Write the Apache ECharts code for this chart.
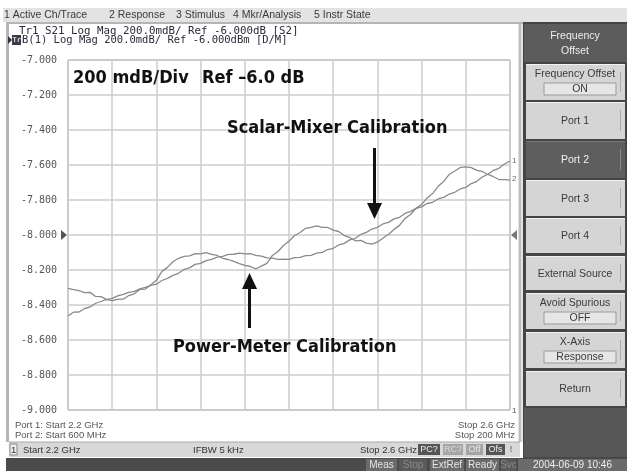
<!DOCTYPE html>
<html>
<head>
<meta charset="utf-8">
<script src="https://cdn.jsdelivr.net/npm/echarts@6/dist/echarts.min.js"></script>
<style>
    html, body { margin: 0; padding: 0; background: #fff; }
    #main { width: 627px; height: 471px; }
</style>
</head>
<body>
<div id="main"></div>
<script>

// sweep points, MHz (port 1 sweep 2.2 GHz -> 2.6 GHz)
var freqs = [
    2200, 2205, 2210, 2215, 2220, 2225, 2230, 2235, 2240, 2245,
    2250, 2255, 2260, 2265, 2270, 2275, 2280, 2285, 2290, 2295,
    2300, 2305, 2310, 2315, 2320, 2325, 2330, 2335, 2340, 2345,
    2350, 2355, 2360, 2365, 2370, 2375, 2380, 2385, 2390, 2395,
    2400, 2405, 2410, 2415, 2420, 2425, 2430, 2435, 2440, 2445,
    2450, 2455, 2460, 2465, 2470, 2475, 2480, 2485, 2490, 2495,
    2500, 2505, 2510, 2515, 2520, 2525, 2530, 2535, 2540, 2545,
    2550, 2555, 2560, 2565, 2570, 2575, 2580, 2585, 2590, 2595,
    2600
];

// Tr1: S21, scalar-mixer calibration (dB)
var trace1 = [
    -8.463, -8.441, -8.440, -8.420, -8.411, -8.390, -8.380, -8.368, -8.362, -8.348,
    -8.339, -8.328, -8.322, -8.308, -8.299, -8.288, -8.281, -8.260, -8.248, -8.231,
    -8.219, -8.197, -8.188, -8.168, -8.162, -8.146, -8.139, -8.126, -8.122, -8.111,
    -8.110, -8.104, -8.108, -8.107, -8.116, -8.121, -8.131, -8.132, -8.139, -8.138,
    -8.139, -8.129, -8.128, -8.118, -8.116, -8.103, -8.099, -8.083, -8.076, -8.057,
    -8.048, -8.028, -8.019, -7.997, -7.985, -7.966, -7.956, -7.937, -7.928, -7.908,
    -7.899, -7.877, -7.865, -7.848, -7.839, -7.820, -7.813, -7.794, -7.785, -7.766,
    -7.756, -7.737, -7.728, -7.706, -7.693, -7.668, -7.653, -7.631, -7.619, -7.594,
    -7.577
];

// Tr2: B(1), power-meter calibration (dBm)
var trace2 = [
    -8.305, -8.312, -8.318, -8.329, -8.328, -8.351, -8.352, -8.369, -8.375, -8.368,
    -8.367, -8.346, -8.336, -8.311, -8.309, -8.284, -8.259, -8.208, -8.185, -8.153,
    -8.133, -8.122, -8.119, -8.106, -8.108, -8.101, -8.111, -8.117, -8.133, -8.140,
    -8.151, -8.163, -8.173, -8.180, -8.193, -8.178, -8.162, -8.117, -8.094, -8.060,
    -8.036, -8.003, -7.986, -7.962, -7.957, -7.948, -7.956, -7.957, -7.972, -7.980,
    -8.003, -8.014, -8.033, -8.031, -8.046, -8.052, -8.041, -8.017, -7.997, -7.968,
    -7.945, -7.905, -7.883, -7.848, -7.826, -7.788, -7.763, -7.722, -7.694, -7.654,
    -7.634, -7.614, -7.611, -7.615, -7.631, -7.637, -7.654, -7.667, -7.683, -7.684,
    -7.686
];

var menuItems = [
    ['1 Active Ch/Trace', 4], ['2 Response', 109], ['3 Stimulus', 176],
    ['4 Mkr/Analysis', 233], ['5 Instr State', 314]
];

// [label, sub label, top, bottom, selected]
var softkeys = [
    ['Frequency Offset', 'ON', 64, 100, false],
    ['Port 1', '', 102, 139, false],
    ['Port 2', '', 141, 178, true],
    ['Port 3', '', 180, 216, false],
    ['Port 4', '', 218, 253, false],
    ['External Source', '', 256, 290, false],
    ['Avoid Spurious', 'OFF', 293, 329, false],
    ['X-Axis', 'Response', 332, 368, false],
    ['Return', '', 371, 406, false]
];

var SANS = '"Liberation Sans", Arial, sans-serif';
var MONO = '"DejaVu Sans Mono", monospace';
var BOLD = 'bold 18px "Liberation Sans Narrow", "DejaVu Sans Condensed", sans-serif';

var chart = echarts.init(document.getElementById('main'), null, {renderer: 'canvas'});

function txt(x, y, s, font, fill, align, z) {
    return {
        type: 'text',
        z: z || 50,
        style: {
            x: x, y: y, text: s, font: font,
            fill: fill || '#333',
            align: align || 'left',
            verticalAlign: 'middle'
        }
    };
}

function box(x, y, w, h, fill, stroke, z) {
    return {
        type: 'rect',
        z: z || 10,
        shape: {x: x, y: y, width: w, height: h},
        style: {fill: fill || 'none', stroke: stroke || null, lineWidth: 1}
    };
}

var graphics = [];

// menu bar
graphics.push(box(3, 8, 624, 14, '#e3e3e3'));
menuItems.forEach(function (m) {
    graphics.push(txt(m[1], 15.5, m[0], '10.5px ' + SANS, '#3a3a3a'));
});

// frame round the measurement window
graphics.push(box(6, 22, 3, 420, '#b5b5b5'));
graphics.push(box(9, 22, 514, 2, '#b5b5b5'));
graphics.push(box(518, 24, 5, 418, '#e2e2e2'));
graphics.push(box(519.5, 24, 1, 418, '#9a9a9a'));

// trace header lines
graphics.push(txt(19, 31, 'Tr1 S21 Log Mag 200.0mdB/ Ref -6.000dB [S2]', '10.8px ' + MONO, '#2a2a3a'));
graphics.push({
    type: 'polygon', z: 50,
    shape: {points: [[8, 36], [8, 44], [12, 40]]},
    style: {fill: '#333'}
});
graphics.push(box(12, 35, 9, 10, '#3a3a4a', null, 40));
graphics.push(txt(12.5, 40, 'Tr2', 'bold 7px ' + MONO, '#ddd'));
graphics.push(txt(22, 40, 'B(1) Log Mag 200.0mdB/ Ref -6.000dBm [D/M]', '10.5px ' + MONO, '#2a2a3a'));

// reference level markers and trace end labels
graphics.push({
    type: 'polygon', z: 50,
    shape: {points: [[61, 230], [61, 240], [67, 235]]},
    style: {fill: '#555'}
});
graphics.push({
    type: 'polygon', z: 50,
    shape: {points: [[517, 230], [517, 240], [511, 235]]},
    style: {fill: '#777'}
});
graphics.push(txt(512, 161, '1', '8px ' + SANS, '#666'));
graphics.push(txt(512, 179, '2', '8px ' + SANS, '#666'));
graphics.push(txt(512, 411, '1', '8px ' + SANS, '#555'));

// sweep annotations inside the window
graphics.push(txt(15, 425, 'Port 1: Start 2.2 GHz', '9.5px ' + SANS, '#555'));
graphics.push(txt(15, 435, 'Port 2: Start 600 MHz', '9.5px ' + SANS, '#555'));
graphics.push(txt(515, 425, 'Stop 2.6 GHz', '9.5px ' + SANS, '#555', 'right'));
graphics.push(txt(515, 435, 'Stop 200 MHz', '9.5px ' + SANS, '#555', 'right'));

// overlay captions and arrows
graphics.push(txt(73, 78, '200 mdB/Div', BOLD, '#111', 'left', 60));
graphics.push(txt(202, 78, 'Ref \u20136.0 dB', BOLD, '#111', 'left', 60));
graphics.push(txt(227, 128, 'Scalar-Mixer Calibration', BOLD, '#111', 'left', 60));
graphics.push(txt(173, 347, 'Power-Meter Calibration', BOLD, '#111', 'left', 60));
graphics.push(box(373, 148, 3, 58, '#111', null, 60));
graphics.push({
    type: 'polygon', z: 60,
    shape: {points: [[367, 203], [382, 203], [374.5, 219]]},
    style: {fill: '#111'}
});
graphics.push(box(248, 286, 3, 42, '#111', null, 60));
graphics.push({
    type: 'polygon', z: 60,
    shape: {points: [[242, 289], [257, 289], [249.5, 273]]},
    style: {fill: '#111'}
});

// status bar
graphics.push(box(9, 442, 511, 15, '#d8d8d8'));
graphics.push(box(9, 441.5, 511, 1, '#aaa'));
graphics.push(box(10, 444, 7, 11, '#eee', '#888'));
graphics.push(txt(11, 450, '1', '9.5px ' + SANS, '#333'));
graphics.push(txt(23, 450, 'Start 2.2 GHz', '9.5px ' + SANS, '#333'));
graphics.push(txt(193, 450, 'IFBW 5 kHz', '9.5px ' + SANS, '#333'));
graphics.push(txt(360, 450, 'Stop 2.6 GHz', '9.5px ' + SANS, '#333'));
[['PC?', 418, 22, '#555', '#eee'], ['RC?', 443, 20, '#a5a5a5', '#ddd'],
 ['Off', 466, 17, '#a5a5a5', '#e8e8e8'], ['Ofs', 486, 19, '#555', '#eee']].forEach(function (b) {
    graphics.push(box(b[1], 444, b[2], 11, b[3]));
    graphics.push(txt(b[1] + b[2] / 2, 450, b[0], '9px ' + SANS, b[4], 'center'));
});
graphics.push(txt(511, 450, '!', '9px ' + SANS, '#555', 'center'));

// bottom bar
graphics.push(box(6, 458, 621, 13, '#4b4b4b'));
[['Meas', 366, 31, '#6b6b6b', '#e6e6e6'], ['Stop', 399, 28, '#5a5a5a', '#8a8a8a'],
 ['ExtRef', 430, 34, '#6b6b6b', '#e6e6e6'], ['Ready', 466, 33, '#6b6b6b', '#e6e6e6'],
 ['Svc', 501, 15, '#5a5a5a', '#8a8a8a'], ['2004-06-09 10:46', 518, 109, '#6b6b6b', '#eee']].forEach(function (b) {
    graphics.push(box(b[1], 459, b[2], 12, b[3]));
    graphics.push(txt(b[1] + b[2] / 2, 465.5, b[0], '10px ' + SANS, b[4], 'center'));
});

// softkey panel
graphics.push(box(523, 22, 104, 436, '#454545'));
graphics.push(box(524, 24, 103, 38, '#5c5c5c'));
graphics.push(txt(575, 36, 'Frequency', '10.5px ' + SANS, '#eee', 'center'));
graphics.push(txt(575, 51, 'Offset', '10.5px ' + SANS, '#eee', 'center'));
softkeys.forEach(function (k) {
    var top = k[2];
    var h = k[3] - k[2];
    graphics.push(box(526, top, 99, h, k[4] ? '#5e5e5e' : '#d5d5d5'));
    graphics.push(box(526, top, 99, 1, k[4] ? '#777' : '#f2f2f2'));
    graphics.push(box(620, top + 8, 1, h - 16, k[4] ? '#888' : '#aaa'));
    var fg = k[4] ? '#f0f0f0' : '#3a3a3a';
    if (k[1]) {
        graphics.push(txt(575, top + 10, k[0], '10.5px ' + SANS, fg, 'center'));
        graphics.push(box(544, top + 19, 72, 12, '#e6e6e6', '#9a9a9a'));
        graphics.push(txt(580, top + 25.5, k[1], '10.5px ' + SANS, fg, 'center'));
    }
    else {
        graphics.push(txt(575, top + h / 2 + 1, k[0], '10.5px ' + SANS, fg, 'center'));
    }
});
graphics.push(box(524, 408, 103, 49, '#575757'));

var option = {
    backgroundColor: '#fff',
    animation: false,
    grid: {
        left: 68, top: 60, width: 442, height: 350,
        show: true, borderColor: '#8f8f8f', borderWidth: 1
    },
    xAxis: {
        type: 'value', min: 2200, max: 2600, interval: 40,
        axisLine: {show: false}, axisTick: {show: false}, axisLabel: {show: false},
        splitLine: {lineStyle: {color: '#cdcdcd', width: 1.5}}
    },
    yAxis: {
        type: 'value', min: -9, max: -7, interval: 0.2,
        axisLine: {show: false}, axisTick: {show: false},
        axisLabel: {
            margin: 11, color: '#555', fontFamily: 'DejaVu Sans Mono', fontSize: 10,
            formatter: function (v) { return v.toFixed(3); }
        },
        splitLine: {lineStyle: {color: '#cdcdcd', width: 1.5}}
    },
    series: [
        {
            name: 'Tr1', type: 'line', showSymbol: false, z: 5,
            data: freqs.map(function (f, i) { return [f, trace1[i]]; }),
            lineStyle: {color: '#8a8a8a', width: 1.3}
        },
        {
            name: 'Tr2', type: 'line', showSymbol: false, z: 5,
            data: freqs.map(function (f, i) { return [f, trace2[i]]; }),
            lineStyle: {color: '#8a8a8a', width: 1.3}
        }
    ],
    graphic: graphics
};

chart.setOption(option);
</script>
</body>
</html>
